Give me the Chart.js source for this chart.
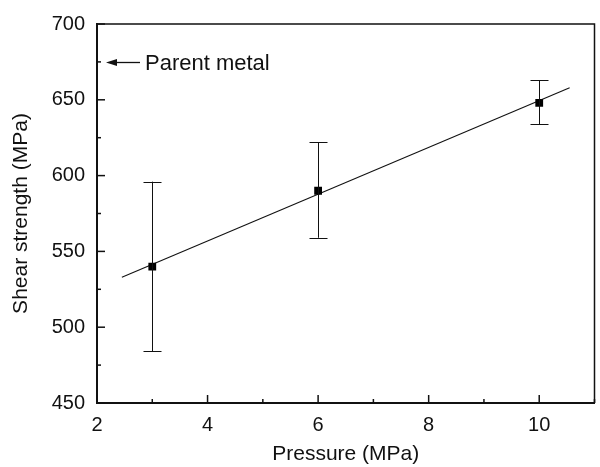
<!DOCTYPE html>
<html>
<head>
<meta charset="utf-8">
<script src="https://cdn.jsdelivr.net/npm/chart.js@4.4.0/dist/chart.umd.min.js"></script>
<style>
  html, body { margin: 0; padding: 0; background: #fff; }
  #wrap { width: 600px; height: 467px; }
</style>
</head>
<body>
<div id="wrap"><canvas id="chart"></canvas></div>
<script>
// Pressão x resistência ao cisalhamento
const pressao = [3, 6, 10];
const resistencia = [540, 590, 648];
const erroSup = [596, 622, 663];
const erroInf = [484, 559, 634];

const ajusteX = [2.45, 10.55];
const ajusteY = [533, 658];

const ticksX = [2, 4, 6, 8, 10];
const ticksY = [450, 500, 550, 600, 650, 700];

const metalBase = 675;

const FONTE = '"Liberation Sans", Arial, sans-serif';

// moldura, barras de erro, ticks internos e a seta "Parent metal"
const extras = {
    id: 'extras',
    afterDatasetsDraw(chart) {
        const { ctx, scales: { x, y }, chartArea } = chart;
        ctx.save();
        ctx.strokeStyle = '#111';

        // moldura superior e direita
        ctx.lineWidth = 1.5;
        ctx.beginPath();
        ctx.moveTo(chartArea.left, chartArea.top);
        ctx.lineTo(chartArea.right, chartArea.top);
        ctx.lineTo(chartArea.right, chartArea.bottom);
        ctx.stroke();

        ctx.lineWidth = 1;
        pressao.forEach((p, i) => {
            const px = Math.round(x.getPixelForValue(p)) + 0.5;
            const top = y.getPixelForValue(erroSup[i]);
            const bot = y.getPixelForValue(erroInf[i]);
            ctx.beginPath();
            ctx.moveTo(px, top); ctx.lineTo(px, bot);
            ctx.moveTo(px - 9, Math.round(top) + 0.5); ctx.lineTo(px + 9, Math.round(top) + 0.5);
            ctx.moveTo(px - 9, Math.round(bot) + 0.5); ctx.lineTo(px + 9, Math.round(bot) + 0.5);
            ctx.stroke();
        });

        // ticks para dentro
        ctx.lineWidth = 1.5;
        for (let v = 2; v <= 11; v++) {
            const px = x.getPixelForValue(v);
            const len = v % 2 === 0 ? 8 : 4;
            ctx.beginPath();
            ctx.moveTo(px, chartArea.bottom); ctx.lineTo(px, chartArea.bottom - len);
            ctx.stroke();
        }
        for (let v = 450; v <= 700; v += 25) {
            const py = y.getPixelForValue(v);
            const len = v % 50 === 0 ? 8 : 4;
            ctx.beginPath();
            ctx.moveTo(chartArea.left, py); ctx.lineTo(chartArea.left + len, py);
            ctx.stroke();
        }

        // seta
        const ay = Math.round(y.getPixelForValue(metalBase)) + 0.5;
        const ax0 = chartArea.left + 9;
        const ax1 = chartArea.left + 43;
        ctx.lineWidth = 1.3;
        ctx.beginPath();
        ctx.moveTo(ax0 + 8, ay); ctx.lineTo(ax1, ay);
        ctx.stroke();
        ctx.fillStyle = '#111';
        ctx.beginPath();
        ctx.moveTo(ax0, ay); ctx.lineTo(ax0 + 11, ay - 3.5); ctx.lineTo(ax0 + 11, ay + 3.5);
        ctx.closePath();
        ctx.fill();
        ctx.font = '22px ' + FONTE;
        ctx.textAlign = 'left';
        ctx.textBaseline = 'middle';
        ctx.fillText('Parent metal', ax1 + 5, ay + 1);
        ctx.restore();
    }
};

new Chart(document.getElementById('chart'), {
    type: 'scatter',
    data: {
        datasets: [
            {
                label: 'Ajuste',
                data: ajusteX.map((v, i) => ({ x: v, y: ajusteY[i] })),
                showLine: true,
                borderColor: '#111',
                borderWidth: 1.1,
                pointRadius: 0,
                order: 2
            },
            {
                label: 'Resistência',
                data: pressao.map((p, i) => ({ x: p, y: resistencia[i] })),
                pointStyle: 'rect',
                pointRadius: 5.5,
                backgroundColor: '#000',
                borderColor: '#000',
                borderWidth: 0,
                order: 1
            }
        ]
    },
    options: {
        responsive: true,
        maintainAspectRatio: false,
        animation: false,
        layout: { padding: { top: 20, right: 2, left: 0, bottom: 0 } },
        plugins: { legend: { display: false }, tooltip: { enabled: false } },
        scales: {
            x: {
                type: 'linear',
                min: 2, max: 11,
                afterBuildTicks: s => { s.ticks = ticksX.map(v => ({ value: v })); },
                afterFit: s => { s.height = 64; },
                grid: { display: false, drawTicks: false },
                border: { display: true, color: '#111', width: 2 },
                ticks: { color: '#111', font: { family: FONTE, size: 20 }, padding: 10, maxRotation: 0 },
                title: { display: true, text: 'Pressure (MPa)', color: '#111', font: { family: FONTE, size: 21 }, padding: { top: 4, bottom: 0 } }
            },
            y: {
                min: 450, max: 700,
                afterBuildTicks: s => { s.ticks = ticksY.map(v => ({ value: v })); },
                afterFit: s => { s.width = 97; },
                grid: { display: false, drawTicks: false },
                border: { display: true, color: '#111', width: 2 },
                ticks: { color: '#111', font: { family: FONTE, size: 20 }, padding: 12 },
                title: { display: true, text: 'Shear strength (MPa)', color: '#111', font: { family: FONTE, size: 21 }, padding: { top: 9, bottom: 4 } }
            }
        }
    },
    plugins: [extras]
});
</script>
</body>
</html>
